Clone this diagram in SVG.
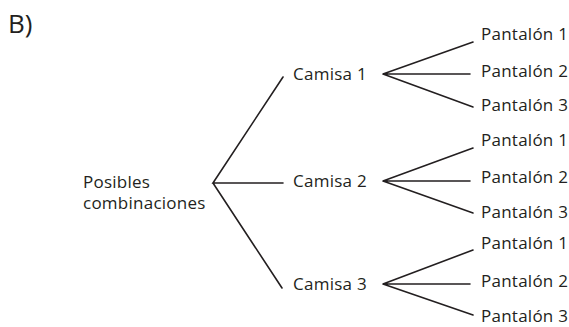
<svg xmlns="http://www.w3.org/2000/svg" width="569" height="327" viewBox="0 0 569 327">
<style>
text{font-family:"Open Sans","Liberation Sans",sans-serif;fill:#231f20;font-size:17px;letter-spacing:0.25px}
.l{stroke:#231f20;stroke-width:1.6;fill:none;stroke-linecap:round}
</style>
<rect width="569" height="327" fill="#fff"/>
<text x="8" y="33" style="font-size:26px;letter-spacing:0">B)</text>
<g id="connectors">
<path class="l" d="M283,77 L213,183 L283,183 M213,183 L282,288"/>
<path class="l" d="M473,42 L383,74 L470,74 M383,74 L473,107"/>
<path class="l" d="M473,148 L383,181 L470,181 M383,181 L473,213"/>
<path class="l" d="M473,250 L383,284 L470,284 M383,284 L473,315"/>
</g>
<g id="root"><text x="83" y="188">Posibles</text><text x="83" y="209">combinaciones</text></g>
<g id="camisa1"><text x="293" y="80">Camisa 1</text></g>
<g id="camisa2"><text x="293" y="187">Camisa 2</text></g>
<g id="camisa3"><text x="293" y="290">Camisa 3</text></g>
<g id="c1p1"><text x="481" y="40">Pantalón 1</text></g>
<g id="c1p2"><text x="481" y="77">Pantalón 2</text></g>
<g id="c1p3"><text x="481" y="111">Pantalón 3</text></g>
<g id="c2p1"><text x="481" y="146">Pantalón 1</text></g>
<g id="c2p2"><text x="481" y="183">Pantalón 2</text></g>
<g id="c2p3"><text x="481" y="218">Pantalón 3</text></g>
<g id="c3p1"><text x="481" y="249">Pantalón 1</text></g>
<g id="c3p2"><text x="481" y="287">Pantalón 2</text></g>
<g id="c3p3"><text x="481" y="322">Pantalón 3</text></g>
</svg>
